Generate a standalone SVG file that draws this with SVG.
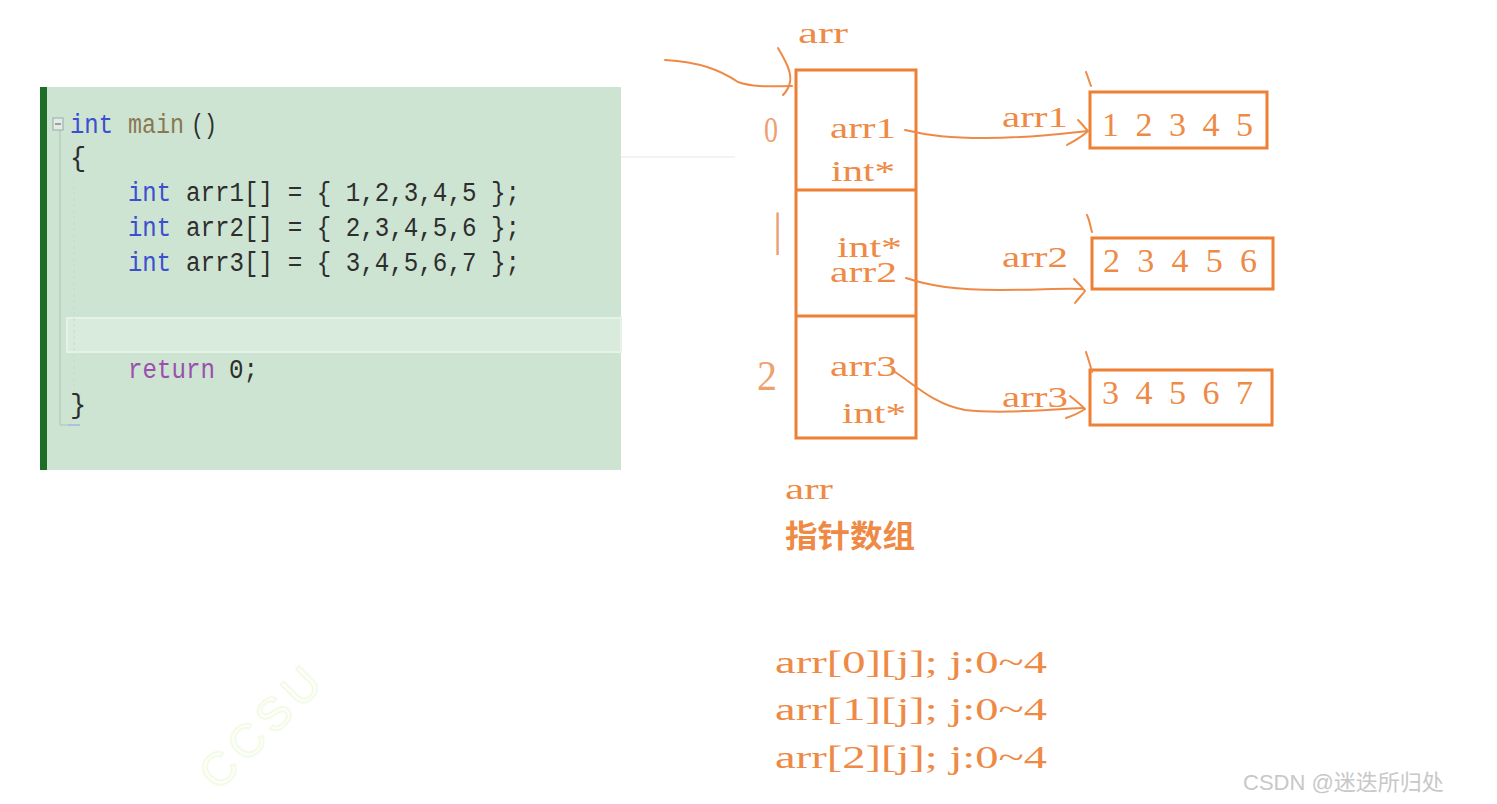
<svg xmlns="http://www.w3.org/2000/svg" width="1497" height="804" viewBox="0 0 1497 804">
<style>
.code{font-family:"Liberation Mono","DejaVu Sans Mono",monospace;font-size:27px;fill:#2e2e2e}
.kw{fill:#3b4fcf}
.fn{fill:#8a7850}
.ret{fill:#9c4fae}
.o{font-family:"Liberation Serif","Noto Serif",serif;font-size:30px;fill:#ee8a45}
.num{font-family:"Liberation Serif",serif;font-size:34px;fill:#ee8a45}
.box{fill:none;stroke:#ee7f33;stroke-width:3}
.ink{fill:none;stroke:#ee8a45;stroke-width:2;stroke-linecap:round;stroke-linejoin:round}
</style>
<rect width="1497" height="804" fill="#ffffff"/>

<g id="code-panel">
<rect x="40" y="87" width="581" height="383" fill="#cde4d2"/>
<rect x="40" y="87" width="7" height="383" fill="#1f6e27"/>
<rect x="67" y="318" width="554" height="34" fill="#d9ebdd" stroke="#e6f1e8" stroke-width="2"/>
<line x1="60" y1="130" x2="60" y2="425" stroke="#b9cdbf" stroke-width="1.5"/>
<line x1="60" y1="425" x2="68" y2="425" stroke="#b9cdbf" stroke-width="1.5"/>
<line x1="68" y1="425" x2="80" y2="425" stroke="#9fb6e0" stroke-width="1.5"/>
<line x1="74" y1="180" x2="74" y2="395" stroke="#c6dccb" stroke-width="1" stroke-dasharray="3 3"/>
<rect x="53" y="118" width="10" height="12" fill="#e2ece4" stroke="#9aa" stroke-width="1"/>
<line x1="55" y1="124" x2="61" y2="124" stroke="#556" stroke-width="1"/>
<text class="code kw" x="70" y="133" textLength="43" lengthAdjust="spacingAndGlyphs">int</text>
<text class="code fn" x="128" y="133" textLength="56" lengthAdjust="spacingAndGlyphs">main</text>
<text class="code" x="191" y="133" textLength="26" lengthAdjust="spacingAndGlyphs">()</text>
<text class="code" x="70" y="166">{</text>
<text class="code kw" x="128" y="201" textLength="43" lengthAdjust="spacingAndGlyphs">int</text>
<text class="code" x="186" y="201" textLength="334" lengthAdjust="spacingAndGlyphs">arr1[] = { 1,2,3,4,5 };</text>
<text class="code kw" x="128" y="236" textLength="43" lengthAdjust="spacingAndGlyphs">int</text>
<text class="code" x="186" y="236" textLength="334" lengthAdjust="spacingAndGlyphs">arr2[] = { 2,3,4,5,6 };</text>
<text class="code kw" x="128" y="271" textLength="43" lengthAdjust="spacingAndGlyphs">int</text>
<text class="code" x="186" y="271" textLength="334" lengthAdjust="spacingAndGlyphs">arr3[] = { 3,4,5,6,7 };</text>
<text class="code ret" x="128" y="378" textLength="87" lengthAdjust="spacingAndGlyphs">return</text>
<text class="code" x="229" y="378" textLength="29" lengthAdjust="spacingAndGlyphs">0;</text>
<text class="code" x="70" y="413">}</text>
</g>

<line x1="621" y1="157" x2="735" y2="157" stroke="#f2f4f2" stroke-width="2"/>

<g id="arr-box">
<rect class="box" x="796" y="70" width="120" height="368"/>
<line class="box" x1="796" y1="190" x2="916" y2="190"/>
<line class="box" x1="796" y1="316" x2="916" y2="316"/>
<text class="o" x="798" y="43" textLength="50" lengthAdjust="spacingAndGlyphs">arr</text>
<text class="o" x="830" y="138" textLength="66" lengthAdjust="spacingAndGlyphs">arr1</text>
<text class="o" x="831" y="181" textLength="64" lengthAdjust="spacingAndGlyphs">int*</text>
<text class="o" x="837" y="257" textLength="65" lengthAdjust="spacingAndGlyphs">int*</text>
<text class="o" x="830" y="282" textLength="67" lengthAdjust="spacingAndGlyphs">arr2</text>
<text class="o" x="830" y="376" textLength="67" lengthAdjust="spacingAndGlyphs">arr3</text>
<text class="o" x="842" y="423" textLength="64" lengthAdjust="spacingAndGlyphs">int*</text>
<text class="o" x="764" y="142" style="font-size:36px;fill:#efa070" textLength="14" lengthAdjust="spacingAndGlyphs">0</text>
<text class="o" x="773" y="245" style="font-size:46px;fill:#e8a070">|</text>
<text class="o" x="757" y="390" style="font-size:42px;fill:#efa070" textLength="20" lengthAdjust="spacingAndGlyphs">2</text>
</g>

<g id="arr1-data">
<rect class="box" x="1090" y="92" width="177" height="56"/>
<text class="num" x="1102" y="136" textLength="151" lengthAdjust="spacing">1 2 3 4 5</text>
<text class="o" x="1002" y="127" textLength="66" lengthAdjust="spacingAndGlyphs">arr1</text>
</g>
<g id="arr2-data">
<rect class="box" x="1092" y="238" width="181" height="51"/>
<text class="num" x="1103" y="272" textLength="154" lengthAdjust="spacing">2 3 4 5 6</text>
<text class="o" x="1002" y="267" textLength="66" lengthAdjust="spacingAndGlyphs">arr2</text>
</g>
<g id="arr3-data">
<rect class="box" x="1090" y="370" width="182" height="55"/>
<text class="num" x="1102" y="404" textLength="151" lengthAdjust="spacing">3 4 5 6 7</text>
<text class="o" x="1002" y="407" textLength="66" lengthAdjust="spacingAndGlyphs">arr3</text>
</g>

<g id="connectors">
<path class="ink" d="M665 60 C700 62 720 70 738 82 C755 88 775 86 792 86"/>
<path class="ink" d="M778 48 C785 60 792 72 790 82 C789 88 786 92 783 95"/>
<path class="ink" d="M905 130 C930 136 950 138 985 138 C1030 138 1060 134 1087 131"/>
<path class="ink" d="M1078 120 C1082 124 1085 128 1088 131 C1082 137 1074 141 1067 145"/>
<path class="ink" d="M906 278 C930 286 955 290 1000 290 C1040 290 1060 288 1083 289"/>
<path class="ink" d="M1074 279 C1078 283 1082 287 1085 291 C1082 295 1078 299 1075 303"/>
<path class="ink" d="M895 372 C915 385 935 405 965 410 C1000 414 1040 410 1083 408"/>
<path class="ink" d="M1070 396 C1075 400 1080 404 1085 409 C1079 413 1072 416 1066 418"/>
<path class="ink" d="M1086 72 C1088 77 1089 81 1091 86"/>
<path class="ink" d="M1087 215 C1090 221 1090 226 1092 232"/>
<path class="ink" d="M1086 352 C1088 358 1090 364 1092 372"/>
</g>

<g id="notes">
<text class="o" x="785" y="499" textLength="48" lengthAdjust="spacingAndGlyphs">arr</text>
<text x="785" y="547" font-family="'Noto Sans CJK SC',sans-serif" font-size="31" font-weight="bold" fill="#ee8a45" textLength="130" lengthAdjust="spacingAndGlyphs">指针数组</text>
<text class="o" x="775" y="673" style="font-size:32px" textLength="272" lengthAdjust="spacingAndGlyphs">arr[0][j]; j:0~4</text>
<text class="o" x="775" y="720" style="font-size:32px" textLength="272" lengthAdjust="spacingAndGlyphs">arr[1][j]; j:0~4</text>
<text class="o" x="775" y="768" style="font-size:32px" textLength="272" lengthAdjust="spacingAndGlyphs">arr[2][j]; j:0~4</text>
</g>

<text x="0" y="0" transform="translate(218,792) rotate(-45)" font-family="'Liberation Sans',sans-serif" font-size="46" textLength="150" lengthAdjust="spacing" fill="none" stroke="#f3fbe6" stroke-width="2">CCSU</text>
<text x="1243" y="790" font-family="'Liberation Sans','Noto Sans CJK SC',sans-serif" font-size="22" fill="#c8c8c8">CSDN @迷迭所归处</text>
</svg>
